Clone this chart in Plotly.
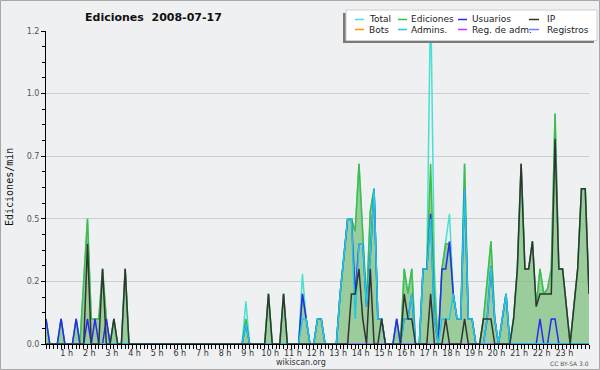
import plotly.graph_objects as go

# ---------------- data (10-minute bins, value = edits per minute) ----------------
BIN_MINUTES = list(range(0, 1441, 10))          # 0 .. 24h, 145 bins
HOUR_TICKS = list(range(1, 24))
HOUR_LABELS = [f"{h} h" for h in HOUR_TICKS]
Y_TICKS = [0, 0.25, 0.5, 0.75, 1.0, 1.25]
Y_LABELS = ["0.0", "0.2", "0.5", "0.7", "1.0", "1.2"]

# non-zero bins only (bin index -> value); all other bins are 0
EDICIONES = {0: .1, 4: .1, 8: .1, 10: .25, 11: .5, 12: .1, 13: .1, 14: .1, 15: .3, 16: .1, 18: .1, 21: .3,
             53: .1, 59: .2, 63: .2, 68: .2, 69: .1, 72: .1, 73: .1,
             78: .2, 79: .35, 80: .5, 81: .5, 82: .45, 83: .72, 84: .45, 85: .16, 86: .53, 87: .62, 88: .1, 89: .1,
             93: .1, 95: .3, 96: .2, 97: .3,
             100: .3, 101: .3, 102: .72, 103: .2, 105: .3, 106: .4, 107: .4, 108: .2, 109: .1, 110: .1, 111: .72,
             112: .1, 113: .1, 116: .1, 117: .25, 118: .41, 119: .1, 121: .1, 122: .2,
             124: .1, 125: .3, 126: .72, 127: .3, 128: .3, 129: .41, 130: .15, 131: .3, 132: .2, 133: .22, 134: .3,
             135: .92, 136: .3, 137: .3, 138: .15, 140: .15, 141: .3, 142: .62, 143: .62, 144: .2}
TOTAL = {0: .1, 4: .1, 8: .1, 10: .25, 11: .5, 12: .1, 13: .1, 14: .1, 15: .3, 16: .1, 18: .1, 21: .3,
         53: .17, 59: .2, 63: .2, 68: .28, 69: .1, 72: .1, 73: .1,
         78: .2, 79: .35, 80: .5, 81: .5, 82: .45, 83: .72, 84: .45, 85: .16, 86: .53, 87: .62, 88: .1, 89: .1,
         93: .1, 95: .3, 96: .2, 97: .3,
         100: .3, 101: .3, 102: 1.4, 103: .3, 105: .3, 106: .4, 107: .52, 108: .2, 109: .1, 110: .1, 111: .72,
         112: .1, 113: .1, 116: .1, 117: .25, 118: .41, 119: .1, 121: .1, 122: .2,
         124: .1, 125: .3, 126: .72, 127: .3, 128: .3, 129: .41, 130: .15, 131: .3, 132: .2, 133: .22, 134: .3,
         135: .92, 136: .3, 137: .3, 138: .15, 140: .15, 141: .3, 142: .62, 143: .62, 144: .2}
USUARIOS = {0: .1, 4: .1, 8: .1, 11: .1, 13: .1, 16: .1, 53: .08, 68: .2, 69: .1, 72: .1, 73: .1,
            78: .2, 79: .35, 80: .5, 81: .5, 82: .2, 83: .4, 84: .4, 85: .15, 86: .35, 87: .62, 88: .1, 89: .1,
            93: .1, 95: .1, 96: .1, 97: .2, 100: .3, 101: .3, 102: .52, 103: .1, 105: .3, 106: .3, 107: .41,
            108: .2, 109: .1, 110: .1, 111: .62, 112: .1, 113: .1, 117: .1, 118: .31, 119: .1, 121: .1, 122: .2,
            131: .1, 134: .1, 135: .1}
IP = {11: .4, 15: .3, 18: .1, 21: .3, 59: .2, 63: .2, 81: .2, 82: .2, 83: .3, 84: .1, 86: .3, 89: .1,
      95: .2, 96: .1, 97: .1, 102: .2, 106: .1, 111: .1, 116: .1, 117: .1, 118: .1,
      124: .1, 125: .3, 126: .72, 127: .3, 128: .3, 129: .41, 130: .15, 131: .2, 132: .2, 133: .2, 134: .2,
      135: .82, 136: .3, 137: .3, 138: .15, 140: .15, 141: .3, 142: .62, 143: .62, 144: .2}
BOTS = {}
ADMINS = {53: .08, 68: .1, 69: .1, 72: .1, 73: .1, 78: .2, 79: .35, 80: .5, 81: .5, 82: .1, 83: .4, 84: .4,
          85: .15, 86: .35, 87: .62, 88: .1, 89: .1, 95: .1, 96: .1, 97: .2, 100: .3, 101: .3, 102: .5,
          103: .1, 105: .1, 106: .1, 107: .1, 108: .2, 109: .1, 110: .1, 111: .62, 112: .1, 113: .1,
          117: .1, 118: .31, 119: .1, 121: .1, 122: .2}
REG_ADM = {}
REGISTROS = {}

SERIES = [  # name, data, colour
    ("Total", TOTAL, "#48e0d2"),
    ("Bots", BOTS, "#ff9900"),
    ("Ediciones", EDICIONES, "#44bb44"),
    ("Admins.", ADMINS, "#22c8e0"),
    ("Usuarios", USUARIOS, "#2a2af0"),
    ("Reg. de adm.", REG_ADM, "#cc33ff"),
    ("IP", IP, "#333333"),
    ("Registros", REGISTROS, "#7777ff"),
]
LEGEND_ORDER = [["Total", "Ediciones", "Usuarios", "IP"],
                ["Bots", "Admins.", "Reg. de adm.", "Registros"]]

# ---------------- geometry ----------------
W, H = 600, 370
L, R, T, B = 46, 11, 31, 26
PW, PH = W - L - R, H - T - B
BG = "#eff0f1"


def px(x):
    return (x - L) / PW


def py(y):
    return (H - B - y) / PH


hours = [m / 60 for m in BIN_MINUTES]


def full(d):
    return [d.get(i, 0) for i in range(len(BIN_MINUTES))]


fig = go.Figure()
# filled area of edits
fig.add_trace(go.Scatter(x=hours, y=full(EDICIONES), mode="lines", fill="tozeroy",
                         fillcolor="rgba(120,190,120,0.70)", line=dict(width=0), showlegend=False,
                         hoverinfo="skip"))
draw_order = ["Total", "Bots", "Reg. de adm.", "Registros", "Ediciones", "Usuarios", "Admins.", "IP"]
colors = {n: c for n, _, c in SERIES}
datas = {n: d for n, d, _ in SERIES}
for name in draw_order:
    fig.add_trace(go.Scatter(x=hours, y=full(datas[name]), mode="lines", name=name,
                             line=dict(color=colors[name], width=1.5), showlegend=False))

shapes = []
annotations = []

# legend box (drawn manually: shadow, box, samples, labels)
shapes.append(dict(type="rect", xref="paper", yref="paper", x0=px(343), x1=px(594), y0=py(43), y1=py(13),
                   fillcolor="#7a7a7a", line=dict(width=0), layer="above"))
shapes.append(dict(type="rect", xref="paper", yref="paper", x0=px(346), x1=px(597), y0=py(40.5), y1=py(10),
                   fillcolor="white", line=dict(color="#d0d0d0", width=1), layer="above"))
col_line = [(355, 364), (398, 407), (458, 467), (529, 539)]
col_text = [367, 409, 470, 545]
row_y = [19.5, 29.5]
for r, row in enumerate(LEGEND_ORDER):
    for c, name in enumerate(row):
        shapes.append(dict(type="line", xref="paper", yref="paper", x0=px(col_line[c][0]), x1=px(col_line[c][1]),
                           y0=py(row_y[r]), y1=py(row_y[r]), line=dict(color=colors[name], width=1.5),
                           layer="above"))
        annotations.append(dict(text=name, xref="paper", yref="paper", x=px(col_text[c]), y=py(row_y[r]),
                                xanchor="left", yanchor="middle", showarrow=False,
                                font=dict(family="DejaVu Sans", size=9, color="#222")))

# title
annotations.append(dict(text="<b>Ediciones\u00a0\u00a02008-07-17</b>", xref="paper", yref="paper",
                        x=px(153.5), y=py(17), xanchor="center", yanchor="middle", showarrow=False,
                        font=dict(family="DejaVu Sans", size=11, color="#111")))
# y axis title
annotations.append(dict(text="Ediciones/min", xref="paper", yref="paper", x=px(9.5), y=py(187.5),
                        xanchor="center", yanchor="middle", showarrow=False, textangle=-90,
                        font=dict(family="DejaVu Sans Mono", size=10, color="#111")))
# footer texts
annotations.append(dict(text="wikiscan.org", xref="paper", yref="paper", x=px(300.5), y=py(362.5),
                        xanchor="center", yanchor="middle", showarrow=False,
                        font=dict(family="DejaVu Sans", size=8, color="#333")))
annotations.append(dict(text="CC BY-SA 3.0", xref="paper", yref="paper", x=px(569), y=py(363.5),
                        xanchor="center", yanchor="middle", showarrow=False,
                        font=dict(family="DejaVu Sans", size=6, color="#555")))
# outer frame
shapes.append(dict(type="rect", xref="paper", yref="paper", x0=px(0.5), x1=px(599.5), y0=py(369.5), y1=py(0.5),
                   line=dict(color="#a8a8a8", width=1), layer="below"))

fig.update_layout(
    width=W, height=H, margin=dict(l=L, r=R, t=T, b=B),
    paper_bgcolor=BG, plot_bgcolor=BG, showlegend=False,
    shapes=shapes, annotations=annotations,
    xaxis=dict(range=[0, 24], showgrid=False, zeroline=False, showline=True, linecolor="black", linewidth=1,
               tickmode="array", tickvals=HOUR_TICKS, ticktext=HOUR_LABELS, ticks="outside", ticklen=4,
               tickcolor="black", tickfont=dict(family="DejaVu Sans", size=8, color="#333"),
               ticklabelstandoff=-3, ticklabelshift=-2,
               minor=dict(tickmode="linear", tick0=0, dtick=1 / 6, ticks="outside", ticklen=4,
                          tickcolor="black", showgrid=False)),
    yaxis=dict(range=[0, 1.25], showgrid=True, gridcolor="#cdcdcd", gridwidth=1, zeroline=False, showline=True,
               linecolor="black", linewidth=1, tickmode="array", tickvals=Y_TICKS, ticktext=Y_LABELS,
               ticks="outside", ticklen=4, tickcolor="black",
               tickfont=dict(family="DejaVu Sans", size=8, color="#555"),
               minor=dict(tickmode="linear", tick0=0, dtick=0.0625, ticks="outside", ticklen=3,
                          tickcolor="black", showgrid=False)),
)

fig.write_html("out.html")
